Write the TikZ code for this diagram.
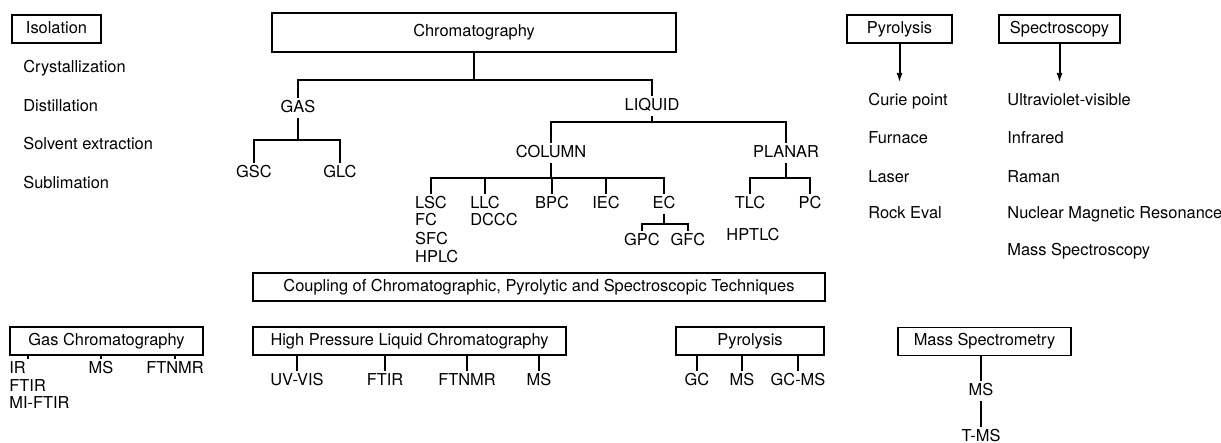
\documentclass[tikz,border=0pt]{standalone}
\usepackage{fontspec}
\setmainfont{TeX Gyre Heros}
\usepackage{tikz}
\usetikzlibrary{arrows.meta,positioning,calc}
\newcommand{\chfont}{\fontsize{8.2}{10}\selectfont}
\tikzset{
  lbl/.style={font=\chfont, inner sep=1pt, text height=6pt, text depth=1.7pt},
  hbox/.style={draw, line width=0.9pt, font=\chfont, inner sep=0pt,
               text height=6pt, text depth=1.7pt, minimum height=14pt},
  brline/.style={line width=1pt},
  downarr/.style={line width=1pt, -{Latex[length=5pt,width=3pt]}, shorten >=4pt},
}

\begin{document}
\begin{tikzpicture}[x=0.5pt, y=-0.5pt]
    \useasboundingbox (0,0) rectangle (1221,443);
    % isolation
    \node[hbox, minimum width=44.5pt] (iso) at (56.5,29) {Isolation};
    \node[lbl, anchor=west] (cryst) at (21,68) {Crystallization};
    \node[lbl, anchor=west] (distil) at (21,107) {Distillation};
    \node[lbl, anchor=west] (solvent) at (21,145) {Solvent extraction};
    \node[lbl, anchor=west] (subl) at (21,184) {Sublimation};
    % chromatography tree
    \node[hbox, minimum width=202pt, minimum height=19.5pt] (chrom) at (474,32.5) {Chromatography};
    \node[lbl] (gas) at (298,108) {GAS};
    \node[lbl] (liquid) at (652,106) {LIQUID};
    \coordinate (chj) at (chrom.south |- 0,80);
    \draw[brline] (chrom.south) -- (chj);
    \draw[brline] (gas.north) |- (chj) -| (liquid.north);
    \node[lbl] (gsc) at (254,173) {GSC};
    \node[lbl] (glc) at (340,173) {GLC};
    \coordinate (gasj) at (gas.south |- 0,140);
    \draw[brline] (gas.south) -- (gasj);
    \draw[brline] (gsc.north) |- (gasj) -| (glc.north);
    \node[lbl] (column) at (551,153) {COLUMN};
    \node[lbl] (planar) at (786,153) {PLANAR};
    \coordinate (liqj) at (liquid.south |- 0,122);
    \draw[brline] (liquid.south) -- (liqj);
    \draw[brline] (column.north) |- (liqj) -| (planar.north);
    \node[lbl] (lsc) at (431,204) {LSC};
    \node[lbl] (llc) at (485,204) {LLC};
    \node[lbl] (bpc) at (552,204) {BPC};
    \node[lbl] (iec) at (606,204) {IEC};
    \node[lbl] (ec) at (664,204) {EC};
    \coordinate (colj) at (column.south |- 0,178);
    \draw[brline] (column.south) -- (colj);
    \draw[brline] (lsc.north) |- (colj) -| (ec.north);
    \foreach \n in {llc,bpc,iec}
      \draw[brline] (\n.north) -- (\n.north |- colj);
    \node[lbl, anchor=west] (fc) at (lsc.west |- 0,221) {FC};
    \node[lbl, anchor=west] (sfc) at (lsc.west |- 0,240) {SFC};
    \node[lbl, anchor=west] (hplc) at (lsc.west |- 0,258) {HPLC};
    \node[lbl, anchor=west] (dccc) at (llc.west |- 0,221) {DCCC};
    \node[lbl] (gpc) at (642,241) {GPC};
    \node[lbl] (gfc) at (688,241) {GFC};
    \coordinate (ecj) at (ec.south |- 0,224);
    \draw[brline] (ec.south) -- (ecj);
    \draw[brline] (gpc.north) |- (ecj) -| (gfc.north);
    \node[lbl] (tlc) at (750,204) {TLC};
    \node[lbl] (pc) at (810,204) {PC};
    \node[lbl] (hptlc) at (753,236) {HPTLC};
    \coordinate (plj) at (planar.south |- 0,178);
    \draw[brline] (planar.south) -- (plj);
    \draw[brline] (tlc.north) |- (plj) -| (pc.north);
    % pyrolysis and spectroscopy
    \node[hbox, minimum width=52.5pt] (pyro) at (899.5,29) {Pyrolysis};
    \node[hbox, minimum width=60.5pt] (spectro) at (1059.5,29) {Spectroscopy};
    \node[lbl, anchor=west] (curie) at (866,101) {Curie point};
    \node[lbl, anchor=west] (furnace) at (866,139) {Furnace};
    \node[lbl, anchor=west] (laser) at (866,178) {Laser};
    \node[lbl, anchor=west] (rockeval) at (866,214) {Rock Eval};
    \node[lbl, anchor=west] (uvvis) at (1005,101) {Ultraviolet-visible};
    \node[lbl, anchor=west] (infrared) at (1005,139) {Infrared};
    \node[lbl, anchor=west] (raman) at (1005,178) {Raman};
    \node[lbl, anchor=west] (nmr) at (1005,214) {Nuclear Magnetic Resonance};
    \node[lbl, anchor=west] (massspec) at (1005,251) {Mass Spectroscopy};
    \draw[downarr] (pyro.south) -- (pyro.south |- curie.north);
    \draw[downarr] (spectro.south) -- (spectro.south |- uvvis.north);
    % coupling
    \node[hbox] (coupling) at (539,287) [minimum width=286pt]
         {Coupling of Chromatographic, Pyrolytic and Spectroscopic Techniques};
    \node[hbox, minimum width=96.5pt] (gcbox) at (106.5,341) {Gas Chromatography};
    \node[lbl, anchor=west] (gcir) at (7,369) {IR};
    \node[lbl, anchor=west] (gcftir) at (7,387) {FTIR};
    \node[lbl, anchor=west] (gcmift) at (7,404) {MI-FTIR};
    \node[lbl] (gcms) at (101,369) {MS};
    \node[lbl] (gcnmr) at (175,369) {FTNMR};
    \draw[brline] (gcbox.south -| gcir.north east) -- (gcir.north east);
    \foreach \n in {gcms,gcnmr}
      \draw[brline] (gcbox.south -| \n.north) -- (\n.north);
    \node[hbox, minimum width=156.5pt] (hpbox) at (409.5,341) {High Pressure Liquid Chromatography};
    \node[lbl] (hpuv) at (297,381) {UV-VIS};
    \node[lbl] (hpftir) at (385,381) {FTIR};
    \node[lbl] (hpnmr) at (467,381) {FTNMR};
    \node[lbl] (hpms) at (539,381) {MS};
    \foreach \n in {hpuv,hpftir,hpnmr,hpms}
      \draw[brline] (hpbox.south -| \n.north) -- (\n.north);
    \node[hbox, minimum width=74pt] (pybox) at (750,341) {Pyrolysis};
    \node[lbl] (pygc) at (697,381) {GC};
    \node[lbl] (pyms) at (742,381) {MS};
    \node[lbl] (pygcms) at (798,381) {GC-MS};
    \foreach \n in {pygc,pyms,pygcms}
      \draw[brline] (pybox.south -| \n.north) -- (\n.north);
    \node[hbox, minimum width=86.5pt] (msbox) at (984.5,341.5) {Mass Spectrometry};
    \node[lbl] (msms) at (981,391) {MS};
    \node[lbl] (tms) at (981,437) {T-MS};
    \draw[brline] (msbox.south -| msms.north) -- (msms.north);
    \draw[brline] (msms.south) -- (tms.north);
  \end{tikzpicture}
\end{document}
